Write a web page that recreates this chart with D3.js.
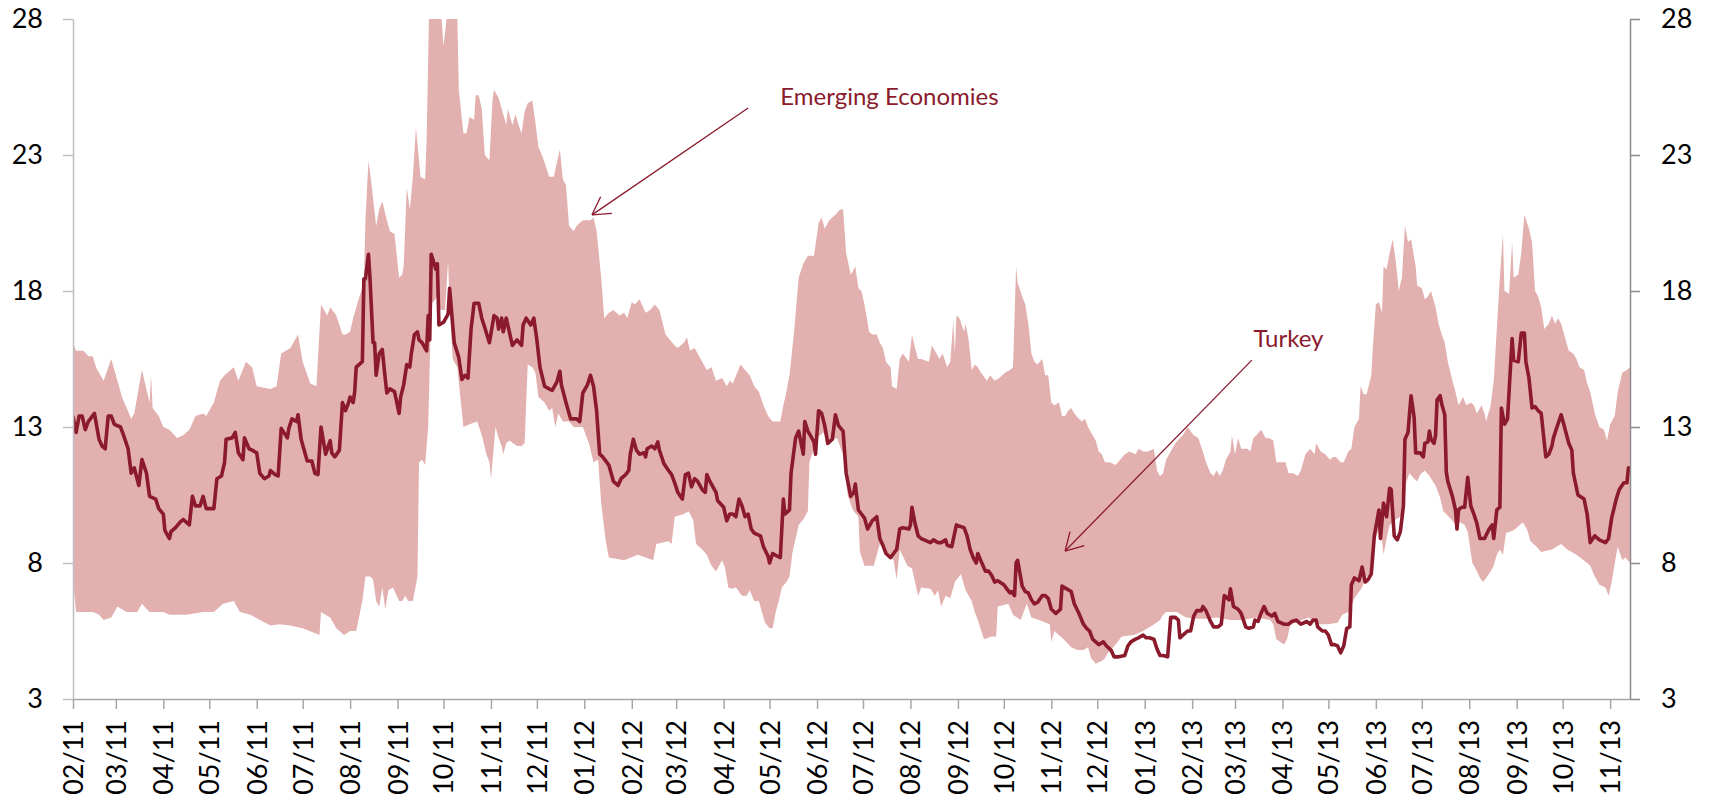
<!DOCTYPE html>
<html>
<head>
<meta charset="utf-8">
<script src="https://cdn.jsdelivr.net/npm/d3@7"></script>
<style>
  html, body { margin: 0; padding: 0; background: #ffffff; }
  svg { display: block; font-family: Lato, "Noto Sans", sans-serif; }
</style>
</head>
<body>
<svg id="chart" width="1711" height="802"></svg>
<script>
// Implied volatility, in percent. Each point is [days since 1 Feb 2011, value].

// Upper edge of the emerging-economies range
const emergingHigh = [
  [0,16.1],[2,15.8],[7,15.8],[10,15.6],[13,15.6],[15,15.2],[20,14.7],[25,15.5],[32,14.1],[38,13.3],
  [40,13.5],[45,15.1],[50,13.9],[51,14.9],[52,13.7],[56,13.4],[59,13.0],[63,12.9],[68,12.6],[72,12.7],
  [76,12.9],[80,13.4],[85,13.5],[87,13.4],[92,13.9],[96,14.7],[99,14.9],[105,15.2],[108,14.7],[113,15.4],
  [117,15.2],[120,14.5],[129,14.4],[133,14.5],[136,15.7],[142,15.9],[147,16.4],[150,15.4],[155,14.6],[159,14.5],
  [162,17.5],[166,17.1],
  [168,17.4],[172,17.1],[176,16.4],[178,16.4],[181,16.5],[183,17.0],[186,17.6],[190,18.3],[191,20.6],[193,22.8],
  [195,21.9],[197,20.9],[198,20.4],[200,21.0],[202,21.3],[205,20.6],[207,20.2],[210,20.1],[213,18.5],[215,18.6],
  [216,18.9],[218,21.8],[220,21.0],[222,22.2],[224,24.0],[227,22.2],[230,22.1],[231,23.6],[233,29.5],[235,29.5],
  [239,29.5],[242,27.0],[245,28.5],[248,29.5],[251,28.2],[252,25.4],[255,23.8],[257,23.8],[259,24.4],[262,24.3],
  [263,25.2],[265,25.2],[267,24.7],[269,23.0],[272,22.8],[274,25.0],[275,25.4],[278,25.1],[280,24.7],[283,24.1],
  [284,24.7],[287,24.1],[289,24.5],[291,24.1],[293,23.8],[295,24.6],[297,24.9],[300,25.0],[302,24.2],[304,23.3],
  [307,22.9],[311,22.2],[314,22.2],[316,22.7],[318,23.2],[320,22.1],[322,21.9],[324,20.4],[327,20.2],[329,20.4],
  [333,20.6],[338,20.6],
  [340,20.7],[342,20.2],[345,18.5],[347,17.0],[350,17.2],[353,17.3],[357,17.1],[360,17.2],[362,17.0],[365,17.6],
  [367,17.5],[370,17.7],[374,17.2],[377,17.3],[380,17.5],[383,17.3],[387,16.4],[390,16.2],[393,16.0],[395,15.9],
  [399,16.1],[401,16.3],[403,15.8],[406,15.9],[410,15.5],[414,15.1],[417,15.2],[420,14.7],[424,14.8],[427,14.5],
  [429,14.7],[431,14.6],[436,15.3],[439,15.1],[442,14.9],[445,14.5],[448,14.3],[451,13.8],[454,13.4],[457,13.2],
  [462,13.2],[464,13.8],[466,14.3],[468,14.9],[471,16.5],[474,18.5],[477,19.0],[480,19.3],[484,19.3],[487,20.5],
  [489,20.7],[491,20.3],[494,20.6],[498,20.8],[501,21.0],[503,21.0],[505,19.4],[508,18.6],
  [510,18.8],[511,18.9],[513,18.1],[515,18.0],[517,17.5],[520,16.5],[522,16.4],[525,16.4],[527,16.1],[529,15.9],
  [531,15.4],[534,15.2],[535,14.5],[538,14.4],[540,15.5],[542,15.7],[546,15.4],[548,16.4],[550,15.9],[552,15.5],
  [554,15.5],[559,15.4],[561,16.0],[564,15.7],[566,15.5],[568,15.7],[571,15.2],[573,15.4],[575,16.9],[576,15.7],
  [577,17.1],[579,17.0],[582,16.5],[583,16.8],[585,16.2],[587,15.1],[589,15.3],[591,15.2],[593,15.0],[597,14.7],
  [599,14.9],[602,14.7],[605,14.8],[609,15.0],[612,15.1],[614,15.2],[616,18.9],[617,18.3],[620,17.8],[622,17.5],
  [624,16.8],[626,15.7],[628,15.4],[630,15.3],[633,15.5],[635,14.9],[637,14.9],[639,13.9],[641,13.8],[644,13.9],
  [646,13.4],[648,13.4],[650,13.6],[652,13.7],[654,13.5],[657,13.3],[659,13.2],[661,13.3],[663,13.0],[665,12.8],
  [668,12.5],[670,12.1],[672,12.0],[674,11.7],[677,11.7],
  [681,11.6],[684,11.8],[687,12.0],[690,12.1],[694,12.0],[696,12.2],[699,12.1],[702,12.1],[706,12.2],[708,11.4],
  [710,11.2],[712,11.3],[714,11.8],[716,12.0],[720,12.4],[723,12.6],[725,12.7],[728,13.0],[732,12.7],[735,12.6],
  [738,12.1],[740,11.7],[743,11.3],[745,11.2],[747,11.4],[749,11.2],[751,11.4],[753,11.8],[756,12.1],[757,12.7],
  [759,12.0],[761,12.6],[763,12.2],[767,12.2],[769,12.1],[771,12.6],[773,12.7],[776,12.9],[779,12.6],[781,12.6],
  [784,12.5],[786,11.7],[788,11.7],[792,11.7],[794,11.3],[797,11.3],[800,11.2],[802,11.4],[805,12.0],[808,12.2],
  [811,12.0],[812,12.4],[815,12.1],[818,12.0],[821,11.8],[823,11.9],[825,11.9],[828,11.7],[830,11.7],[833,12.1],
  [835,12.2],[837,13.0],[840,13.3],[841,14.5],[843,14.2],[845,14.2],[848,14.9],
  [849,15.9],[851,17.5],[853,17.6],[855,17.2],[856,18.9],[858,18.8],[860,19.4],[862,19.9],[864,19.1],[866,18.0],
  [868,18.5],[870,20.4],[872,19.8],[874,19.9],[877,18.9],[878,18.2],[881,18.1],[883,17.7],[885,17.8],[887,18.0],
  [890,17.4],[892,16.8],[894,16.4],[896,16.1],[898,15.4],[901,14.7],[903,14.3],[905,13.8],[908,14.1],[910,13.8],
  [913,13.9],[915,13.8],[917,13.5],[920,13.8],[922,13.5],[923,13.2],[926,13.8],[928,14.7],[930,16.6],[932,18.5],
  [934,20.1],[935,18.0],[938,17.9],[940,19.8],[941,18.5],[944,18.6],[946,19.4],[948,20.8],[951,20.3],[953,19.8],
  [955,18.0],[957,17.8],[959,17.4],[961,16.6],[964,16.8],[966,17.1],[968,16.8],[970,17.0],[972,16.8],[975,16.2],
  [977,15.8],[980,15.7],[982,15.5],[984,15.2],[987,15.1],[989,14.6],[991,14.3],[994,13.5],[997,13.0],[1000,12.9],
  [1002,12.5],[1004,13.1],[1007,13.4],[1009,14.3],[1012,15.0],[1015,15.1],[1017,15.2]
];

// Lower edge of the emerging-economies range
const emergingLow = [
  [0,7.3],[1,6.8],[2,6.2],[8,6.2],[13,6.2],[17,6.1],[20,5.9],[25,6.0],[29,6.4],[35,6.2],
  [42,6.2],[45,6.5],[50,6.2],[59,6.2],[63,6.1],[74,6.1],[85,6.2],[92,6.2],[98,6.5],[105,6.6],
  [109,6.2],[116,6.1],[122,5.9],[129,5.7],[135,5.75],[142,5.7],[150,5.6],[159,5.4],[161,5.35],[162,6.2],
  [168,6.0],
  [172,5.6],[177,5.35],[181,5.5],[185,5.5],[189,6.6],[191,7.5],[194,7.5],[196,7.4],[198,6.6],[200,6.4],
  [202,7.1],[204,6.3],[206,7.0],[209,7.1],[213,6.6],[215,6.6],[217,6.8],[219,6.6],[222,6.6],[225,7.5],
  [226,11.7],[228,11.8],[230,11.6],[232,13.0],[234,17.5],[238,17.8],[240,17.3],[243,17.3],[245,19.1],[246,17.5],
  [248,15.5],[251,15.2],[253,14.1],[255,13.0],[259,13.1],[264,13.2],[267,12.7],[270,12.0],[272,11.7],[273,11.1],
  [276,13.0],[278,12.6],[280,12.3],[281,12.0],[283,12.4],[285,12.5],[290,12.3],[293,12.3],[295,12.4],[297,15.3],
  [300,15.2],[302,15.0],[304,14.1],[308,13.9],[311,13.6],[313,13.7],[315,13.0],[317,13.5],[320,13.2],[324,13.2],
  [327,13.0],[333,13.0],[337,12.4],
  [340,11.7],[343,11.8],[345,10.2],[348,8.8],[350,8.2],[360,8.1],[369,8.3],[379,8.1],[381,8.7],[389,8.8],
  [391,8.7],[393,9.7],[399,9.8],[402,9.9],[405,9.6],[407,8.7],[411,8.5],[414,8.3],[417,7.9],[420,7.7],
  [424,8.1],[426,7.8],[428,7.1],[430,7.05],[433,7.1],[437,6.8],[440,6.8],[442,7.0],[445,6.6],[448,6.6],
  [450,6.2],[452,5.8],[455,5.6],[457,5.6],[459,6.2],[461,6.6],[463,7.1],[466,7.3],[468,7.5],[470,8.4],
  [474,9.4],[477,9.6],[480,9.9],[481,11.7],[486,12.6],[490,12.8],[494,12.5],[499,12.6],[503,12.0],[506,10.5],
  [509,10.0],
  [510,9.9],[513,9.7],[514,8.4],[517,7.9],[523,7.9],[527,8.7],[529,8.6],[533,8.3],[536,8.1],[538,7.4],
  [540,8.5],[545,7.9],[548,7.8],[550,7.3],[552,6.8],[554,7.1],[560,7.05],[563,6.8],[565,7.0],[567,6.4],
  [570,6.8],[573,6.7],[576,7.3],[578,7.45],[580,7.6],[583,7.0],[587,6.6],[589,6.2],[591,5.9],[595,5.2],
  [600,5.3],[603,5.3],[604,6.4],[611,6.5],[614,6.1],[619,5.9],[623,6.5],[626,6.0],[631,5.9],[638,5.75],
  [639,5.1],[641,5.5],[647,5.2],[652,4.9],[656,4.8],[660,4.8],[663,4.9],[665,4.5],[668,4.3],[672,4.4],
  [674,4.5],[676,4.7],[678,4.8],
  [681,5.0],[685,5.3],[693,5.35],[699,5.5],[705,5.7],[710,5.9],[712,6.1],[714,6.2],[721,6.2],[727,6.0],
  [734,5.95],[740,5.95],[747,6.0],[756,5.9],[764,5.9],[773,6.0],[782,5.9],[784,5.75],[786,5.2],[791,5.0],
  [793,5.2],[795,5.7],[798,5.8],[807,6.0],[813,5.75],[820,5.75],[826,5.8],[829,6.1],[833,6.2],[837,6.7],
  [842,7.1],[844,7.45],[847,7.6],
  [849,8.6],[852,9.1],[854,9.4],[856,8.3],[858,8.9],[860,9.4],[864,9.6],[867,9.7],[869,10.0],[871,11.0],
  [873,11.3],[876,11.1],[878,11.0],[880,11.25],[883,11.4],[886,11.2],[890,10.85],[893,10.4],[895,9.9],[897,9.8],
  [901,9.55],[903,9.4],[906,9.5],[909,9.4],[911,9.15],[914,8.0],[917,7.7],[919,7.45],[921,7.3],[923,7.45],
  [926,7.7],[928,7.9],[930,8.3],[932,8.5],[934,8.3],[936,9.1],[941,9.2],[945,9.4],[947,9.5],[950,9.2],
  [952,8.8],[956,8.6],[959,8.4],[966,8.5],[972,8.7],[976,8.5],[982,8.3],[989,8.0],[991,7.9],[994,7.5],
  [997,7.2],[1001,7.1],[1003,6.8],[1005,7.3],[1008,8.3],[1009,8.6],[1012,8.1],[1014,8.2],[1017,8.0]
];

// Turkey
const turkey = [
  [0,13.4],[2,12.8],[4,13.4],[6,13.4],[8,12.9],[10,13.2],[14,13.5],[17,12.55],[19,12.3],[21,12.2],
  [23,13.4],[25,13.4],[27,13.1],[31,13.0],[33,12.7],[36,12.2],[38,11.3],[40,11.5],[43,10.85],[45,11.8],
  [48,11.3],[50,10.45],[54,10.35],[56,10.0],[59,9.8],[60,9.2],[63,8.9],[64,9.15],[67,9.3],[70,9.5],
  [72,9.6],[74,9.5],[76,9.4],[78,10.45],[80,10.1],[83,10.1],[85,10.45],[87,10.0],[92,10.0],[94,11.1],
  [97,11.2],[99,11.7],[100,12.55],[104,12.6],[106,12.8],[108,12.05],[111,11.8],[112,12.6],[115,12.2],[117,12.15],
  [120,12.05],[122,11.3],[125,11.1],[128,11.2],[129,11.4],[132,11.25],[134,11.2],[136,12.95],[140,12.6],[141,12.95],
  [143,13.3],[146,13.2],[147,13.45],[149,12.55],[153,11.75],[156,11.75],[158,11.3],[160,11.25],[162,13.0],[165,12.0],
  [168,12.5],
  [169,12.05],[171,11.9],[174,12.15],[176,13.9],[178,13.6],[180,13.9],[181,14.1],[183,13.9],[184,14.3],[185,15.2],
  [189,15.4],[190,18.45],[191,18.45],[193,19.35],[194,18.45],[196,16.1],[197,16.1],[198,14.9],[200,15.7],[202,15.85],
  [204,14.75],[205,14.25],[207,14.4],[210,14.3],[213,13.5],[214,14.1],[216,14.55],[218,15.3],[220,15.2],[221,15.7],
  [223,16.4],[225,16.5],[226,16.2],[228,16.1],[231,15.8],[232,17.1],[233,16.2],[234,19.35],[237,18.8],[238,19.0],
  [239,16.75],[242,16.85],[245,17.15],[246,18.1],[249,16.1],[252,15.55],[254,14.75],[256,14.9],[258,14.8],[260,16.6],
  [262,17.55],[265,17.55],[267,17.0],[269,16.65],[272,16.1],[275,17.1],[277,17.0],[278,16.6],[280,17.0],[281,16.5],
  [283,17.0],[287,16.0],[290,16.2],[293,16.0],[294,16.75],[296,17.0],[299,16.75],[301,17.0],[303,16.2],[305,15.2],
  [308,14.5],[311,14.4],[313,14.35],[316,14.65],[318,15.05],[319,14.55],[322,13.9],[325,13.3],[329,13.3],[331,13.2],
  [333,14.25],[336,14.55],[338,14.9],
  [340,14.5],[342,13.6],[344,12.0],[346,11.9],[350,11.6],[353,11.0],[356,10.85],[358,11.1],[361,11.25],[363,11.4],
  [364,12.0],[366,12.55],[368,12.15],[370,12.0],[373,12.05],[374,11.9],[375,12.2],[378,12.3],[380,12.2],[382,12.45],
  [383,12.15],[386,11.65],[389,11.4],[391,11.25],[393,10.95],[395,10.6],[398,10.35],[400,11.25],[402,11.3],[404,10.8],
  [406,11.1],[408,11.0],[411,10.7],[413,10.6],[414,11.25],[416,11.0],[418,10.8],[420,10.6],[421,10.3],[425,10.05],
  [427,9.55],[429,9.8],[431,9.8],[433,9.7],[435,10.35],[437,10.1],[439,9.7],[441,9.8],[443,9.25],[445,9.1],
  [449,9.0],[451,8.6],[454,8.25],[455,8.0],[457,8.35],[460,8.25],[462,8.2],[464,10.35],[465,9.8],[468,9.95],
  [469,11.3],[472,12.6],[474,12.85],[477,12.0],[478,13.2],[480,12.85],[484,12.45],[485,12.0],[487,13.6],[489,13.5],
  [491,13.05],[493,12.4],[496,12.55],[498,13.45],[500,13.05],[503,12.85],[505,11.3],[508,10.45],
  [510,10.6],[511,10.9],[513,9.95],[515,9.8],[517,9.65],[519,9.25],[522,9.55],[525,9.7],[527,8.9],[529,8.65],
  [531,8.35],[534,8.2],[536,8.35],[538,8.5],[540,9.25],[542,9.3],[546,9.25],[547,9.4],[548,10.05],[550,9.45],
  [552,9.0],[554,8.9],[556,8.85],[560,8.75],[562,8.85],[565,8.75],[567,8.75],[570,8.85],[571,8.65],[574,8.6],
  [577,9.4],[579,9.35],[582,9.3],[584,9.0],[586,8.5],[588,8.2],[590,8.0],[591,8.35],[594,7.95],[596,7.7],
  [598,7.7],[600,7.55],[602,7.3],[604,7.35],[608,7.2],[610,7.05],[612,6.9],[613,6.95],[615,6.8],[616,8.0],
  [617,8.1],[620,7.15],[622,6.95],[624,6.9],[626,6.65],[628,6.5],[630,6.55],[633,6.8],[635,6.8],[637,6.7],
  [639,6.3],[642,6.15],[645,6.3],[646,7.15],[649,7.05],[652,6.95],[654,6.5],[657,6.15],[660,5.75],[662,5.6],
  [664,5.5],[666,5.2],[670,5.0],[673,5.1],[675,4.95],[678,4.8],
  [680,4.55],[683,4.55],[687,4.6],[689,4.95],[691,5.1],[694,5.2],[696,5.25],[699,5.35],[701,5.25],[703,5.25],
  [706,5.2],[708,4.85],[710,4.6],[712,4.6],[715,4.55],[717,6.0],[720,6.0],[722,5.9],[723,5.25],[725,5.35],
  [728,5.5],[730,5.5],[732,6.05],[734,6.25],[737,6.25],[738,6.4],[740,6.25],[743,5.85],[745,5.65],[748,5.65],
  [750,5.75],[752,6.8],[755,6.65],[756,7.05],[758,6.4],[761,6.3],[763,6.15],[766,5.65],[768,5.6],[771,5.65],
  [772,5.9],[774,5.85],[776,6.15],[778,6.4],[780,6.15],[783,6.05],[785,6.15],[787,5.85],[791,5.75],[794,5.75],
  [796,5.85],[799,5.9],[802,5.75],[806,5.85],[808,5.75],[810,5.9],[812,5.9],[813,5.65],[816,5.5],[818,5.5],
  [820,5.35],[822,5.0],[824,5.0],[826,4.95],[828,4.7],[830,4.95],[832,5.6],[834,5.65],[835,7.2],[837,7.45],
  [840,7.35],[842,7.85],[844,7.3],[846,7.4],
  [848,7.6],[850,9.0],[853,9.95],[854,8.9],[856,10.2],[858,9.7],[860,10.75],[861,10.7],[863,9.0],[865,8.85],
  [867,9.15],[869,10.1],[870,12.55],[872,12.8],[873,13.5],[874,14.15],[876,13.35],[877,12.05],[880,12.05],[882,11.9],
  [883,12.4],[885,12.45],[886,12.85],[887,12.55],[889,12.4],[890,12.7],[891,14.0],[893,14.15],[894,13.85],[896,13.45],
  [897,11.35],[898,11.0],[901,10.45],[903,9.95],[904,9.25],[905,9.95],[907,10.05],[909,10.05],[911,11.15],[913,10.1],
  [915,9.8],[917,9.45],[919,8.9],[922,8.9],[925,9.25],[927,9.4],[928,8.9],[930,9.95],[932,10.05],[933,13.7],
  [935,13.1],[937,13.3],[940,16.25],[941,15.45],[944,15.4],[946,16.45],[948,16.45],[949,15.4],[951,14.8],[953,13.7],
  [955,13.75],[957,13.6],[959,13.5],[962,11.9],[964,12.0],[966,12.3],[967,12.6],[969,12.95],[972,13.45],[974,13.05],
  [977,12.4],[979,12.15],[980,11.3],[983,10.5],[987,10.35],[989,9.8],[991,8.75],[994,9.0],[997,8.85],[1001,8.75],
  [1003,8.9],[1005,9.65],[1008,10.35],[1010,10.7],[1013,10.95],[1015,10.95],[1016,11.5],[1017,11.35]
];

// Axis settings
const yTicks = [3, 8, 13, 18, 23, 28];
const startDate = new Date(2011, 1, 1);
const lastDay = 1017;

// Callouts: label position, arrow tail and arrow tip, all as [day, value]
const callouts = [
  { label: "Emerging Economies", at: [462, 24.84], tail: [441.5, 24.73], tip: [339.6, 20.8] },
  { label: "Turkey",             at: [771.4, 15.94], tail: [770, 15.46], tip: [648.6, 8.44] }
];

const dayToDate = d => d3.timeDay.offset(startDate, d);

const svg = d3.select("#chart");
const plot = { left: 73, right: 1630, top: 19, bottom: 699 };

const x = d3.scaleTime()
  .domain([startDate, dayToDate(lastDay)])
  .range([plot.left, plot.right]);
const y = d3.scaleLinear()
  .domain([3, 28])
  .range([plot.bottom, plot.top]);

const RED = "#8a1a2c";
const BAND = "#e3b0b0";

svg.append("defs").append("clipPath").attr("id", "plot-clip")
  .append("rect")
  .attr("x", plot.left).attr("y", plot.top)
  .attr("width", plot.right - plot.left).attr("height", plot.bottom - plot.top);

const g = svg.append("g").attr("clip-path", "url(#plot-clip)");

// Range band: upper edge forward, lower edge back
const pt = ([d, v]) => [x(dayToDate(d)), y(v)];
const ring = emergingHigh.map(pt).concat(emergingLow.map(pt).reverse());
g.append("path")
  .attr("d", d3.line()(ring) + "Z")
  .attr("fill", BAND)
  .attr("stroke", "none");

// Turkey line
g.append("path")
  .datum(turkey)
  .attr("d", d3.line().x(d => x(dayToDate(d[0]))).y(d => y(d[1])))
  .attr("fill", "none")
  .attr("stroke", RED)
  .attr("stroke-width", 3.6)
  .attr("stroke-linejoin", "round");

// Axes
const tickFont = 27;

const left = svg.append("g")
  .attr("transform", `translate(${plot.left},0)`)
  .call(d3.axisLeft(y).tickValues(yTicks).tickSize(10).tickSizeOuter(0).tickPadding(20).tickFormat(d3.format("d")));
left.select(".domain").attr("stroke", "#bfbfbf").attr("stroke-width", 1.5);
left.selectAll(".tick line").attr("stroke", "#bfbfbf").attr("stroke-width", 1.5);

const right = svg.append("g")
  .attr("transform", `translate(${plot.right},0)`)
  .call(d3.axisRight(y).tickValues(yTicks).tickSize(10).tickSizeOuter(0).tickPadding(21).tickFormat(d3.format("d")));
right.select(".domain").attr("stroke", "#8c8c8c").attr("stroke-width", 1.5);
right.selectAll(".tick line").attr("stroke", "#8c8c8c").attr("stroke-width", 1.5);

const months = d3.timeMonth.range(startDate, dayToDate(lastDay));
const bottom = svg.append("g")
  .attr("transform", `translate(0,${plot.bottom})`)
  .call(d3.axisBottom(x).tickValues(months).tickSize(10).tickSizeOuter(0).tickFormat(d3.timeFormat("%m/%y")));
bottom.select(".domain").attr("stroke", "#a6a6a6").attr("stroke-width", 1.5);
bottom.selectAll(".tick line").attr("stroke", "#a6a6a6").attr("stroke-width", 1.5);
bottom.selectAll(".tick text")
  .attr("transform", "rotate(-90)")
  .attr("x", -21)
  .attr("y", 0)
  .attr("dy", "0.35em")
  .style("text-anchor", "end");

svg.selectAll(".tick text")
  .attr("fill", "#000")
  .style("font-size", tickFont + "px")
  .style("font-family", "Lato, 'Noto Sans', sans-serif");

// Callouts with open arrowheads
const cg = svg.append("g");
callouts.forEach(c => {
  const [tx, ty] = pt(c.tip);
  const [sx, sy] = pt(c.tail);
  const [lx, ly] = pt(c.at);
  cg.append("line")
    .attr("x1", sx).attr("y1", sy).attr("x2", tx).attr("y2", ty)
    .attr("stroke", RED).attr("stroke-width", 1.3);
  const ang = Math.atan2(sy - ty, sx - tx);
  const len = 20, spread = Math.PI / 6;
  [ang - spread, ang + spread].forEach(a => {
    cg.append("line")
      .attr("x1", tx).attr("y1", ty)
      .attr("x2", tx + len * Math.cos(a)).attr("y2", ty + len * Math.sin(a))
      .attr("stroke", RED).attr("stroke-width", 1.3);
  });
  cg.append("text")
    .attr("x", lx).attr("y", ly)
    .attr("fill", RED)
    .style("font-size", "24px")
    .text(c.label);
});
</script>
</body>
</html>
